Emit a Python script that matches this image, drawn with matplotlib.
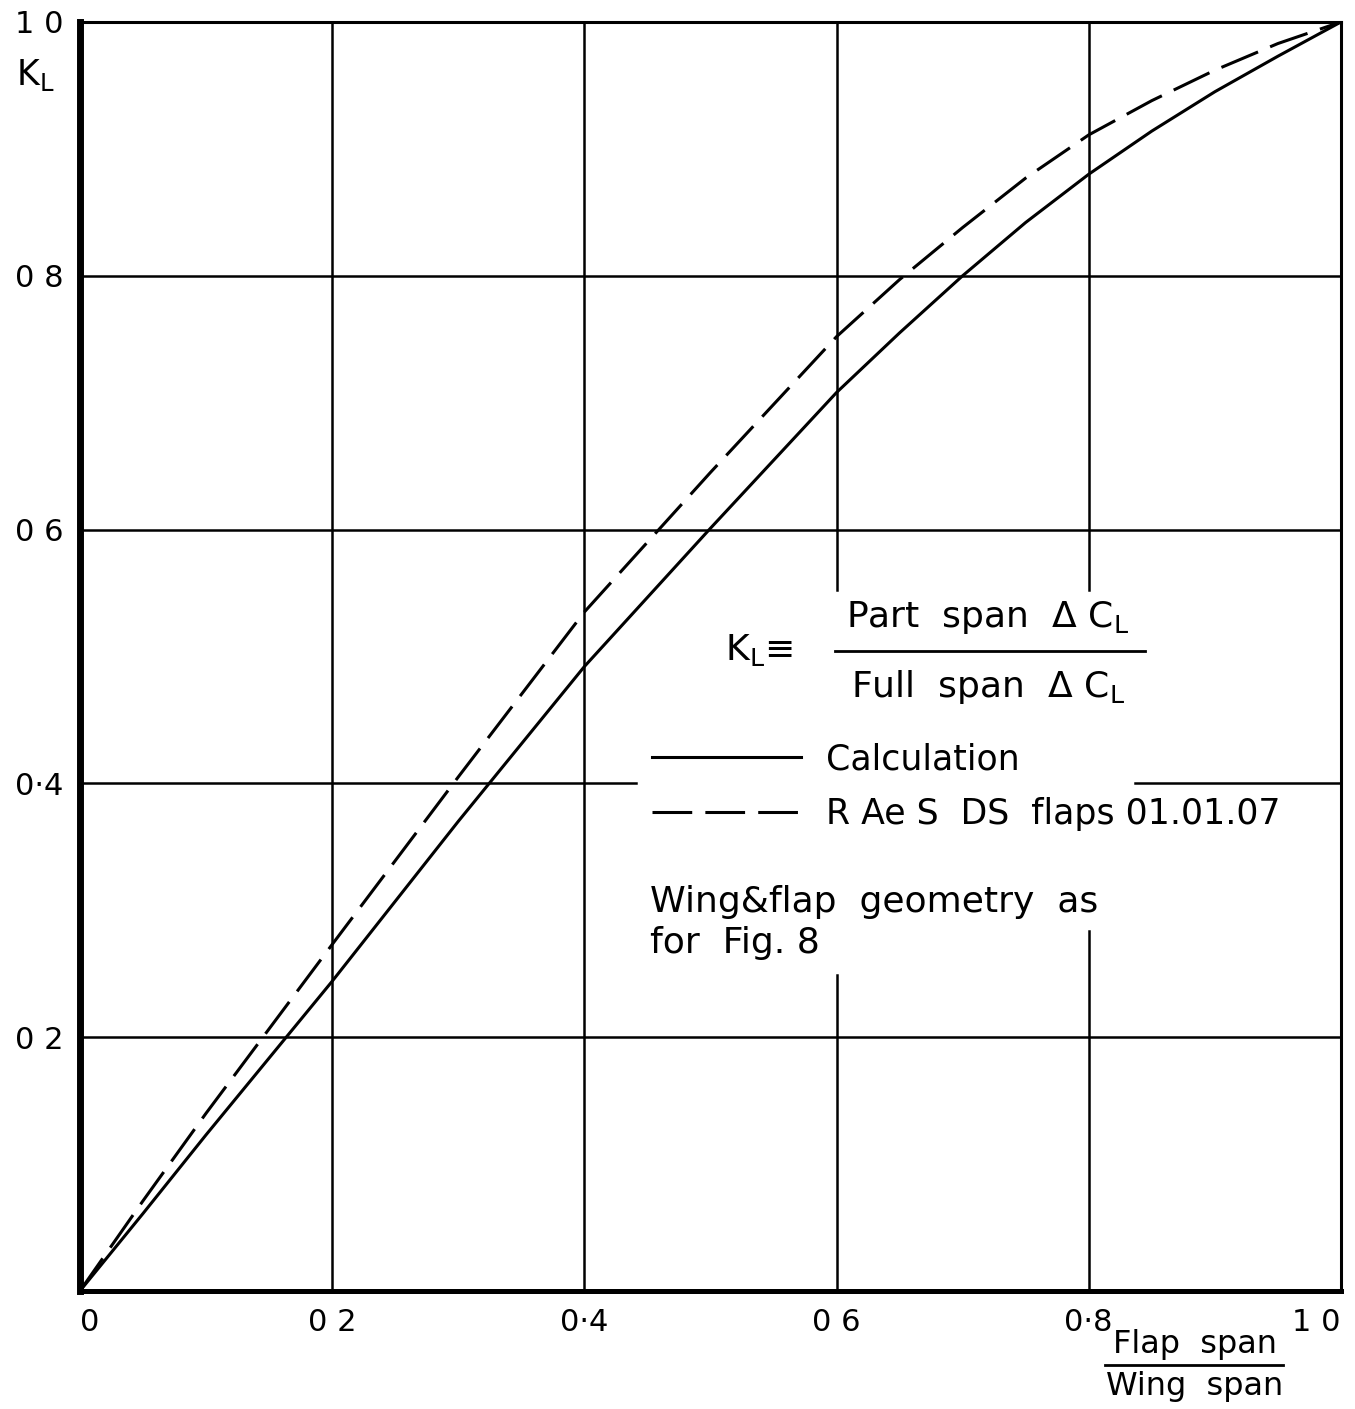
import matplotlib.pyplot as plt

plt.rcParams['font.family'] = ['DejaVu Sans']

# flap span / wing span
span = [0, 0.05, 0.1, 0.2, 0.3, 0.4, 0.5, 0.6, 0.65, 0.7, 0.75, 0.8, 0.85, 0.9, 0.95, 1.0]
# K_L, calculation (solid)
kl_calc = [0, 0.061, 0.123, 0.244, 0.370, 0.492, 0.601, 0.708, 0.755, 0.800, 0.842,
           0.880, 0.914, 0.945, 0.973, 1.0]
# K_L, RAeS DS flaps 01.01.07 (dashed)
kl_raes = [0, 0.071, 0.140, 0.273, 0.405, 0.535, 0.645, 0.752, 0.797, 0.838, 0.877,
           0.911, 0.938, 0.962, 0.983, 1.0]

xticks = [0, 0.2, 0.4, 0.6, 0.8, 1.0]
xtick_labels = ['0', '0 2', '0·4', '0 6', '0·8', '1 0']
yticks = [0.2, 0.4, 0.6, 0.8, 1.0]
ytick_labels = ['0 2', '0·4', '0 6', '0 8', '1 0']

fig = plt.figure(figsize=(13.55, 14.09), dpi=100)
ax = fig.add_axes([0.059, 0.0838, 0.9306, 0.9006])
ax.set_xlim(0, 1)
ax.set_ylim(0, 1)

# grid, broken where the notes are written
gl = dict(color='black', lw=1.8, zorder=1)
ax.axvline(0.2, **gl)
ax.axvline(0.4, **gl)
ax.axvline(0.6, ymin=0, ymax=0.249, **gl)
ax.axvline(0.6, ymin=0.552, ymax=1, **gl)
ax.axvline(0.8, ymin=0, ymax=0.284, **gl)
ax.axvline(0.8, ymin=0.552, ymax=1, **gl)
ax.axhline(0.2, **gl)
ax.axhline(0.4, xmin=0, xmax=0.441, **gl)
ax.axhline(0.4, xmin=0.837, xmax=1, **gl)
ax.axhline(0.6, **gl)
ax.axhline(0.8, **gl)

ax.plot(span, kl_calc, color='black', lw=2.2, label='Calculation', zorder=3)
ax.plot(span, kl_raes, color='black', lw=2.2, dashes=(13, 4.3),
        label='R Ae S  DS  flaps 01.01.07', zorder=3)

for side, w in [('left', 5), ('bottom', 3.6), ('top', 2.2), ('right', 2.2)]:
    ax.spines[side].set_linewidth(w)

ax.set_xticks(xticks)
ax.set_xticklabels(xtick_labels, fontsize=22)
ax.set_yticks(yticks)
ax.set_yticklabels(ytick_labels, fontsize=22)
ax.tick_params(length=0, pad=12)
ax.get_xticklabels()[0].set_ha('left')
ax.get_xticklabels()[-1].set_ha('right')

ax.legend(loc='upper left', bbox_to_anchor=(0.4536, 0.4325), frameon=False,
          fontsize=25, handlelength=4.3, handletextpad=0.7, labelspacing=0.6,
          borderpad=0, borderaxespad=0)

# definition of K_L
ax.text(0.5115, 0.505, r'$\mathregular{K_L}$≡', fontsize=26, va='center', ha='left')
ax.text(0.720, 0.531, r'Part  span  Δ $\mathregular{C_L}$', fontsize=26, ha='center', va='center')
ax.plot([0.599, 0.845], [0.504, 0.504], color='black', lw=2, transform=ax.transAxes)
ax.text(0.720, 0.476, r'Full  span  Δ $\mathregular{C_L}$', fontsize=26, ha='center', va='center')

ax.text(0.452, 0.3065, 'Wing&flap  geometry  as', fontsize=26, ha='left', va='center')
ax.text(0.452, 0.274, 'for  Fig. 8', fontsize=26, ha='left', va='center')

# axis labels
ax.text(-0.0357, 0.958, r'$\mathregular{K_L}$', fontsize=25, ha='center', va='center')
ax.text(0.884, -0.0426, 'Flap  span', fontsize=23, ha='center', va='center')
ax.plot([0.813, 0.954], [-0.058, -0.058], color='black', lw=2,
        transform=ax.transAxes, clip_on=False)
ax.text(0.884, -0.075, 'Wing  span', fontsize=23, ha='center', va='center')

fig.savefig('out.png', dpi=100)
